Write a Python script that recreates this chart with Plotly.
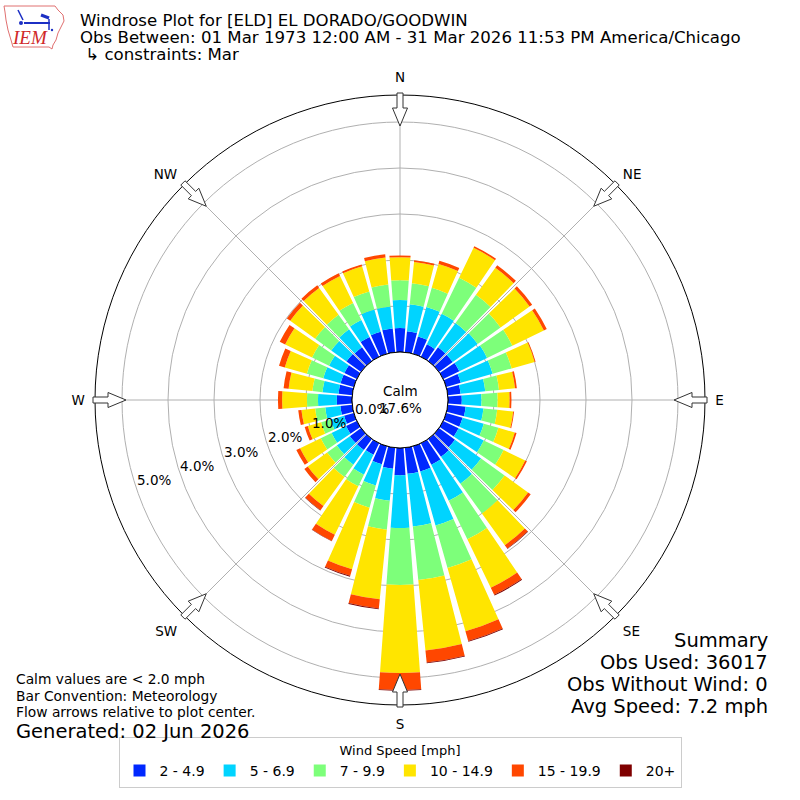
import math

import plotly.graph_objects as go

# Wind rose for ELD, March only; percent of all obs per 10 degree sector.
DIRECTIONS = list(range(0, 360, 10))
SPEED_BINS = ["2 - 4.9", "5 - 6.9", "7 - 9.9", "10 - 14.9", "15 - 19.9", "20+"]
BIN_COLORS = ["#0028ff", "#00d4ff", "#7dff7a", "#ffe500", "#ff4700", "#7f0000"]

PCT_2_5 = [0.52, 0.46, 0.39, 0.30, 0.37, 0.37, 0.39, 0.33, 0.28, 0.30, 0.39, 0.37,
           0.37, 0.43, 0.48, 0.52, 0.57, 0.57, 0.59, 0.46, 0.41, 0.28, 0.30, 0.30,
           0.26, 0.22, 0.26, 0.33, 0.30, 0.30, 0.30, 0.39, 0.37, 0.48, 0.50, 0.52]
PCT_5_7 = [0.61, 0.59, 0.67, 0.74, 0.65, 0.67, 0.67, 0.72, 0.54, 0.43, 0.39, 0.48,
           0.61, 0.70, 0.72, 0.87, 1.22, 1.15, 1.15, 0.70, 0.48, 0.48, 0.39, 0.35,
           0.35, 0.30, 0.33, 0.41, 0.35, 0.39, 0.37, 0.41, 0.48, 0.41, 0.50, 0.48]
PCT_7_10 = [0.43, 0.46, 0.43, 0.87, 0.76, 0.61, 0.61, 0.43, 0.30, 0.35, 0.30, 0.33,
            0.48, 0.63, 0.80, 0.93, 0.96, 1.17, 1.24, 0.63, 0.50, 0.28, 0.33, 0.26,
            0.26, 0.22, 0.22, 0.24, 0.22, 0.37, 0.41, 0.43, 0.39, 0.41, 0.41, 0.48]
PCT_10_15 = [0.50, 0.46, 0.54, 0.72, 0.72, 0.78, 0.76, 0.52, 0.35, 0.26, 0.35, 0.37,
             0.52, 0.63, 0.85, 1.17, 1.43, 1.54, 1.91, 1.52, 1.39, 1.17, 0.78, 0.52,
             0.50, 0.30, 0.30, 0.54, 0.52, 0.50, 0.65, 0.67, 0.72, 0.65, 0.57, 0.59]
PCT_15_20 = [0.04, 0.04, 0.07, 0.04, 0.07, 0.07, 0.07, 0.02, 0.04, 0.04, 0.02, 0.04,
             0.04, 0.07, 0.09, 0.17, 0.22, 0.26, 0.37, 0.20, 0.15, 0.15, 0.11, 0.09,
             0.09, 0.07, 0.07, 0.09, 0.11, 0.13, 0.13, 0.09, 0.07, 0.07, 0.04, 0.07]
PCT_20_UP = [0, 0, 0, 0, 0, 0, 0, 0, 0, 0, 0, 0,
             0, 0, 0.01, 0.02, 0.02, 0.02, 0.02, 0.02, 0.02, 0.01, 0.01, 0,
             0, 0, 0, 0, 0, 0, 0, 0, 0, 0, 0, 0]

RADIAL_TICKS = [0, 1, 2, 3, 4, 5]
RADIAL_TEXT = ["0.0%", "1.0%", "2.0%", "3.0%", "4.0%", "5.0%"]
COMPASS_VALS = [0, 45, 90, 135, 180, 225, 270, 315]
COMPASS_TEXT = ["N", "NE", "E", "SE", "S", "SW", "W", "NW"]
CALM_PCT = "17.6%"

TITLE_LINES = [
    "Windrose Plot for [ELD] EL DORADO/GOODWIN",
    "Obs Between: 01 Mar 1973 12:00 AM - 31 Mar 2026 11:53 PM America/Chicago",
    " \u21b3 constraints: Mar",
]
NOTES = ["Calm values are < 2.0 mph", "Bar Convention: Meteorology",
         "Flow arrows relative to plot center."]
GENERATED = "Generated: 02 Jun 2026"
SUMMARY = ["Summary", "Obs Used: 36017", "Obs Without Wind: 0", "Avg Speed: 7.2 mph"]

_FONT = "DejaVu Sans"
_W = 800
_CX, _CY = 400, 400
_OUTER_PX = 305
_HOLE_PX = 48
_PX_PER_PCT = 46
R_MAX = (_OUTER_PX - _HOLE_PX) / _PX_PER_PCT
_RLABEL_DEG = 252  # compass bearing the % labels sit along


def px(x, y):
    """Pixel position -> paper coordinates."""
    return x / _W, 1 - y / _W


def polar_px(compass_deg, r):
    a = math.radians(compass_deg)
    return _CX + r * math.sin(a), _CY - r * math.cos(a)


def arrow_path(compass_deg):
    # outline arrow sitting on the outer ring, pointing at the centre
    a = math.radians(compass_deg)
    ux, uy = math.sin(a), -math.cos(a)
    vx, vy = -uy, ux
    pts = [(307, -3), (292, -3), (292, -7.5), (274, 0), (292, 7.5), (292, 3), (307, 3)]
    out = []
    for r, w in pts:
        x = _CX + r * ux + w * vx
        y = _CY + r * uy + w * vy
        out.append("%.5f,%.5f" % px(x, y))
    return "M" + "L".join(out) + "Z"


def pixel_path(points, close=True):
    d = "M" + "L".join("%.5f,%.5f" % px(x, y) for x, y in points)
    return d + ("Z" if close else "")


fig = go.Figure()
series = [PCT_2_5, PCT_5_7, PCT_7_10, PCT_10_15, PCT_15_20, PCT_20_UP]
for name, color, values in zip(SPEED_BINS, BIN_COLORS, series):
    fig.add_trace(
        go.Barpolar(
            r=values,
            theta=DIRECTIONS,
            width=8.4,
            name=name,
            marker={"color": color, "line": {"width": 0}},
            hovertemplate="%{theta}\u00b0: %{r:.2f}%<extra>" + name + "</extra>",
        )
    )

x0, y0 = px(_CX - _OUTER_PX, _CY + _OUTER_PX)
x1, y1 = px(_CX + _OUTER_PX, _CY - _OUTER_PX)

shapes = []
hx0, hy0 = px(_CX - _HOLE_PX, _CY + _HOLE_PX)
hx1, hy1 = px(_CX + _HOLE_PX, _CY - _HOLE_PX)
shapes.append(dict(type="circle", xref="paper", yref="paper", x0=hx0, y0=hy0, x1=hx1, y1=hy1,
                   line={"color": "black", "width": 1}, fillcolor="white", layer="above"))
for deg in COMPASS_VALS:
    shapes.append(dict(type="path", xref="paper", yref="paper", path=arrow_path(deg),
                       fillcolor="white", line={"color": "#333333", "width": 1}, layer="above"))

# IEM logo, roughly: Iowa outline with a little station glyph
iowa = [(4, 6), (55, 6), (58, 10), (63, 15), (64, 21), (61, 27), (58, 33), (56, 40),
        (53, 45), (52, 49), (49, 47), (13, 47), (11, 40), (8, 30), (6, 20), (5, 12)]
shapes.append(dict(type="path", xref="paper", yref="paper", path=pixel_path(iowa),
                   line={"color": "#e07070", "width": 1}, fillcolor="white"))
for seg, width in [([(18, 10), (23, 20)], 1.5), ([(24, 23), (50, 23)], 2),
                   ([(41, 15), (49, 18)], 3), ([(49, 19), (49, 30)], 1.5)]:
    shapes.append(dict(type="path", xref="paper", yref="paper", path=pixel_path(seg, False),
                       line={"color": "#1c2fc4", "width": width}))
for cx, cy, rad in [(21, 23, 2), (52, 30, 1.2)]:
    a0, b0 = px(cx - rad, cy + rad)
    a1, b1 = px(cx + rad, cy - rad)
    shapes.append(dict(type="circle", xref="paper", yref="paper", x0=a0, y0=b0, x1=a1, y1=b1,
                       line={"width": 0}, fillcolor="#1c2fc4"))

annotations = []


def note(text, x, y, size, xanchor="left", color="black", family=_FONT):
    ax, ay = px(x, y)
    annotations.append(dict(text=text, x=ax, y=ay, xref="paper", yref="paper",
                            xanchor=xanchor, yanchor="middle", showarrow=False,
                            font={"family": family, "size": size, "color": color}))


note("<i>IEM</i>", 30, 38, 19, xanchor="center", color="#d02828", family="Liberation Serif")
for i, line in enumerate(TITLE_LINES):
    note(line, 78, 20 + 17.5 * i, 16.6)
for i, line in enumerate(NOTES):
    note(line, 14, 679 + 16.5 * i, 13.8)
note(GENERATED, 14, 731, 19.5)
for i, line in enumerate(SUMMARY):
    note(line, 770, 640 + 22 * i, 19.5, xanchor="right")
note("Calm", _CX, 391, 13.5, xanchor="center")
note(CALM_PCT, _CX, 408, 13.5, xanchor="center")
for val, text in zip(RADIAL_TICKS, RADIAL_TEXT):
    lx, ly = polar_px(_RLABEL_DEG, _HOLE_PX + val * _PX_PER_PCT - 19)
    note(text, lx, ly, 13.5, xanchor="center")

fig.update_layout(
    width=800,
    height=800,
    margin={"l": 0, "r": 0, "t": 0, "b": 0},
    paper_bgcolor="white",
    font={"family": _FONT, "size": 13, "color": "black"},
    shapes=shapes,
    annotations=annotations,
    polar={
        "domain": {"x": [x0, x1], "y": [y0, y1]},
        "hole": _HOLE_PX / _OUTER_PX,
        "bgcolor": "white",
        "barmode": "stack",
        "radialaxis": {
            "range": [0, R_MAX],
            "tickvals": RADIAL_TICKS,
            "showticklabels": False,
            "showline": False,
            "ticks": "",
            "gridcolor": "#b0b0b0",
            "gridwidth": 1,
            "layer": "above traces",
        },
        "angularaxis": {
            "direction": "clockwise",
            "rotation": 90,
            "tickvals": COMPASS_VALS,
            "ticktext": COMPASS_TEXT,
            "ticks": "outside",
            "ticklen": 7,
            "tickcolor": "rgba(0,0,0,0)",
            "showline": True,
            "linecolor": "black",
            "linewidth": 1,
            "gridcolor": "#b0b0b0",
            "gridwidth": 1,
            "layer": "above traces",
            "tickfont": {"size": 13.5},
        },
    },
    legend={
        "orientation": "h",
        "x": 0.5,
        "xanchor": "center",
        "y": px(0, 788)[1],
        "yanchor": "bottom",
        "bordercolor": "#cccccc",
        "borderwidth": 1,
        "title": {"text": "Wind Speed [mph]", "side": "top center", "font": {"size": 13}},
        "font": {"size": 14},
        "itemwidth": 30,
        "traceorder": "normal",
    },
)

fig.write_html("out.html", config={"displayModeBar": False},
               post_script="document.body.style.margin='0';")
